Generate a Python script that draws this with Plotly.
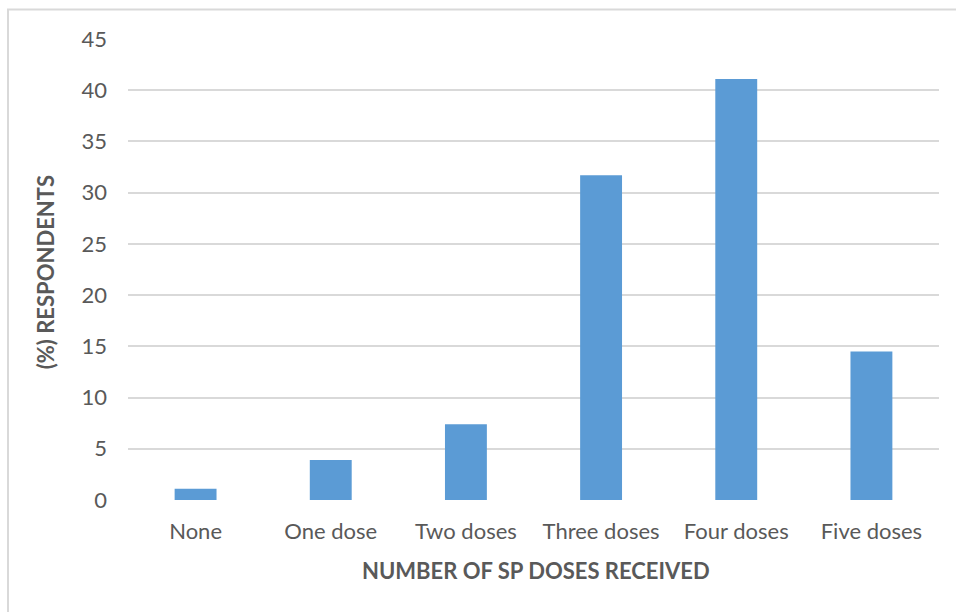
import plotly.graph_objects as go

# Share of respondents by number of SP doses received
categories = ["None", "One dose", "Two doses", "Three doses", "Four doses", "Five doses"]
percent_respondents = [1.1, 3.9, 7.4, 31.7, 41.1, 14.5]
y_ticks = [0, 5, 10, 15, 20, 25, 30, 35, 40, 45]

W, H = 956, 612
L, R, T, B = 128, 17, 38.5, 112
plot_w = W - L - R
plot_h = H - T - B

def px_x(x):
    return (x - L) / plot_w

def px_y(y):
    return (H - B - y) / plot_h

text_color = "#595959"
grid_color = "#d9d9d9"
font_family = "Lato, 'Open Sans', sans-serif"

fig = go.Figure(
    go.Bar(
        x=categories,
        y=percent_respondents,
        marker=dict(color="#5B9BD5", line=dict(width=0)),
        width=0.31,
    )
)

fig.update_layout(
    width=W,
    height=H,
    margin=dict(l=L, r=R, t=T, b=B),
    paper_bgcolor="white",
    plot_bgcolor="white",
    showlegend=False,
    font=dict(family=font_family, color=text_color, size=22),
    xaxis=dict(
        showgrid=False,
        showline=False,
        zeroline=False,
        ticks="",
        tickfont=dict(size=22, color=text_color),
        ticklabelstandoff=16,
    ),
    yaxis=dict(
        range=[0, 45],
        tickvals=y_ticks,
        showgrid=True,
        gridcolor=grid_color,
        gridwidth=1.5,
        zeroline=False,
        showline=False,
        ticks="",
        tickfont=dict(size=22, color=text_color),
        ticklabelstandoff=20,
    ),
    annotations=[
        dict(
            text="<b>NUMBER OF SP DOSES RECEIVED</b>",
            x=px_x(536), y=px_y(571), xref="paper", yref="paper",
            showarrow=False, xanchor="center", yanchor="middle",
            font=dict(size=22, color=text_color, family=font_family),
        ),
        dict(
            text="<b>(%) RESPONDENTS</b>",
            x=px_x(45), y=px_y(272), xref="paper", yref="paper",
            showarrow=False, xanchor="center", yanchor="middle", textangle=-90,
            font=dict(size=22, color=text_color, family=font_family),
        ),
    ],
    shapes=[
        # chart frame (top and left edges fall inside the canvas)
        dict(
            type="rect", xref="paper", yref="paper",
            x0=px_x(8), x1=px_x(W + 10), y0=px_y(H + 10), y1=px_y(9),
            line=dict(color=grid_color, width=2), fillcolor="rgba(0,0,0,0)",
            layer="below",
        ),
    ],
)

fig.write_html("out.html")
